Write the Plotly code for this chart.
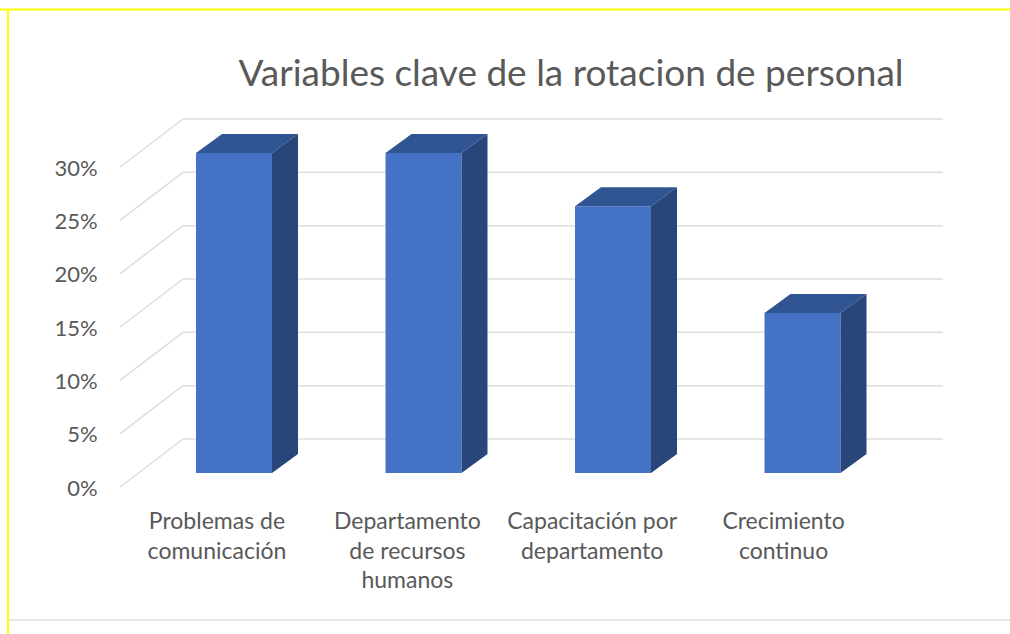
import plotly.graph_objects as go

categories = ["Problemas de<br>comunicación", "Departamento<br>de recursos<br>humanos",
              "Capacitación por<br>departamento", "Crecimiento<br>continuo"]
values = [30, 30, 25, 15]
y_ticks = [0, 5, 10, 15, 20, 25, 30]
y_tick_labels = ["0%", "5%", "10%", "15%", "20%", "25%", "30%"]
label_shift = [-0.09, -0.085, -0.11, -0.10]

W, H = 1010, 634
L, R, T, B = 104, 960, 100, 499       # plot box in page pixels
X0_PX, X_UNIT = 234, 189.5            # first category centre, px per category
Y0_PX, Y_UNIT = 487, 10.667           # zero of the tick plane, px per percent

xr = [(L - X0_PX) / X_UNIT, (R - X0_PX) / X_UNIT]
yr = [(Y0_PX - B) / Y_UNIT, (Y0_PX - T) / Y_UNIT]

bar_width = 76 / X_UNIT
bar_base = 14 / Y_UNIT
depth_x, depth_y = 26 / X_UNIT, 19 / Y_UNIT
wall_lift = 48 / Y_UNIT
wall_x0 = (183 - X0_PX) / X_UNIT
wall_x1 = (943 - X0_PX) / X_UNIT
slant_x0 = (120 - X0_PX) / X_UNIT
label_drop = 1 / Y_UNIT

FRONT, TOP, SIDE = "#4472C4", "#315593", "#284679"
GRID = "#DEDEDE"
TEXT = "#595959"
FONT = "Lato"

x = list(range(len(values)))
fig = go.Figure()
fig.add_trace(go.Bar(x=x, y=values, base=bar_base, width=bar_width,
                     marker=dict(color=FRONT, line=dict(width=0)), showlegend=False))

for xi, v in zip(x, values):
    l, r = xi - bar_width / 2, xi + bar_width / 2
    b, t = bar_base, bar_base + v
    fig.add_trace(go.Scatter(
        x=[l, r, r + depth_x, l + depth_x, l], y=[t, t, t + depth_y, t + depth_y, t],
        mode="lines", fill="toself", fillcolor=TOP, line=dict(width=0), showlegend=False))
    fig.add_trace(go.Scatter(
        x=[r, r + depth_x, r + depth_x, r, r], y=[b, b + depth_y, t + depth_y, t, b],
        mode="lines", fill="toself", fillcolor=SIDE, line=dict(width=0), showlegend=False))

shapes = []
for v in y_ticks:
    shapes.append(dict(type="line", layer="below", xref="x", yref="y", x0=slant_x0, y0=v,
                       x1=wall_x0, y1=v + wall_lift, line=dict(color=GRID, width=1.5)))
    shapes.append(dict(type="line", layer="below", xref="x", yref="y", x0=wall_x0, y0=v + wall_lift,
                       x1=wall_x1, y1=v + wall_lift, line=dict(color=GRID, width=1.5)))

# page frame of the source screenshot
shapes += [
    dict(type="line", xref="paper", yref="paper", x0=(0 - L) / (R - L), x1=(W - L) / (R - L),
         y0=(B - 9.5) / (B - T), y1=(B - 9.5) / (B - T), line=dict(color="#FFFF00", width=2)),
    dict(type="line", xref="paper", yref="paper", x0=(8 - L) / (R - L), x1=(8 - L) / (R - L),
         y0=(B - 9) / (B - T), y1=(B - H) / (B - T), line=dict(color="#FFFF00", width=2)),
    dict(type="line", xref="paper", yref="paper", x0=(9 - L) / (R - L), x1=(W - L) / (R - L),
         y0=(B - 620) / (B - T), y1=(B - 620) / (B - T), line=dict(color="#E6E6E6", width=2)),
]

fig.update_layout(
    width=W, height=H, autosize=False,
    margin=dict(l=L, r=W - R, t=T, b=H - B),
    paper_bgcolor="white", plot_bgcolor="rgba(0,0,0,0)",
    showlegend=False, hovermode=False, shapes=shapes,
    title=dict(text="Variables clave de la rotacion de personal", x=571 / W, xanchor="center",
               y=1 - 73 / H, yanchor="middle", font=dict(family=FONT, size=37, color=TEXT)),
    xaxis=dict(range=xr, tickmode="array", tickvals=[xi + s for xi, s in zip(x, label_shift)],
               ticktext=categories, tickfont=dict(family=FONT, size=23, color=TEXT),
               ticks="outside", ticklen=1, tickcolor="rgba(0,0,0,0)",
               showgrid=False, zeroline=False, showline=False),
    yaxis=dict(range=yr, tickmode="array", tickvals=[v - label_drop for v in y_ticks],
               ticktext=y_tick_labels, tickfont=dict(family=FONT, size=22, color=TEXT),
               ticks="outside", ticklen=1, tickcolor="rgba(0,0,0,0)",
               showgrid=False, zeroline=False, showline=False),
)

fig.write_html("out.html", config={"displayModeBar": False},
               post_script="document.body.style.margin='0';document.body.style.overflow='hidden';")
